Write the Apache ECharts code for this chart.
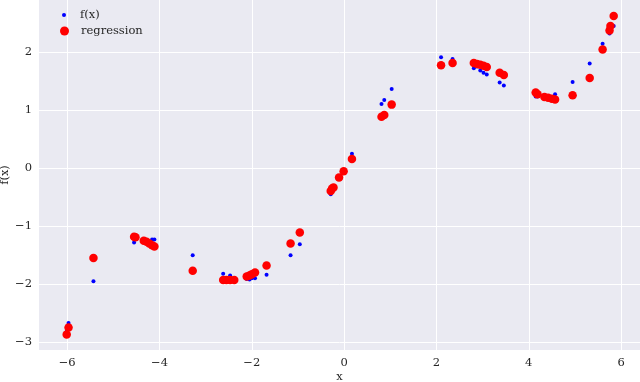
<!DOCTYPE html>
<html>
<head>
<meta charset="utf-8">
<script src="https://cdn.jsdelivr.net/npm/echarts@6/dist/echarts.min.js"></script>
<style>html,body{margin:0;padding:0;background:#fff}#c{width:640px;height:382px}</style>
</head>
<body>
<div id="c"></div>
<script>
var xs = [-6.01, -5.97, -5.43, -4.55, -4.52, -4.34, -4.28, -4.22, -4.16, -4.11, -3.28, -2.62, -2.55, -2.47, -2.38, -2.11, -2.05, -2.00, -1.93, -1.68, -1.16, -0.96, -0.29, -0.26, -0.23, -0.11, -0.01, 0.17, 0.81, 0.87, 1.03, 2.10, 2.35, 2.81, 2.88, 2.95, 3.02, 3.09, 3.37, 3.46, 4.15, 4.19, 4.34, 4.42, 4.50, 4.57, 4.95, 5.32, 5.60, 5.75, 5.77, 5.84];
var fx = [-2.82, -2.67, -1.95, -1.28, -1.21, -1.27, -1.29, -1.30, -1.23, -1.23, -1.50, -1.82, -1.91, -1.85, -1.94, -1.91, -1.92, -1.90, -1.90, -1.84, -1.50, -1.31, -0.45, -0.38, -0.33, -0.16, -0.05, 0.25, 1.11, 1.18, 1.37, 1.92, 1.89, 1.73, 1.76, 1.69, 1.65, 1.62, 1.48, 1.43, 1.24, 1.24, 1.21, 1.20, 1.20, 1.28, 1.49, 1.81, 2.15, 2.33, 2.40, 2.46];
var reg = [-2.87, -2.75, -1.55, -1.18, -1.19, -1.25, -1.27, -1.30, -1.33, -1.35, -1.77, -1.93, -1.93, -1.93, -1.93, -1.87, -1.85, -1.83, -1.80, -1.68, -1.30, -1.11, -0.39, -0.35, -0.33, -0.16, -0.05, 0.16, 0.89, 0.92, 1.10, 1.78, 1.82, 1.82, 1.80, 1.79, 1.77, 1.75, 1.65, 1.61, 1.31, 1.28, 1.23, 1.22, 1.20, 1.19, 1.26, 1.56, 2.05, 2.38, 2.46, 2.63];
var seriesNames = ['f(x)', 'regression'];
var xTickStep = 2, yTickStep = 1;

var FONT = 'DejaVu Serif';
var TXT = '#262626';
function pair(ys) { return xs.map(function (x, i) { return [x, ys[i]]; }); }
function tickFmt(step) {
  return function (v) {
    var r = Math.round(v / step) * step;
    if (Math.abs(v - r) > 1e-6) return '';
    return r < 0 ? '\u2212' + Math.abs(r) : String(r);
  };
}
var chart = echarts.init(document.getElementById('c'), null, {renderer: 'canvas'});
chart.setOption({
  animation: false,
  backgroundColor: '#ffffff',
  textStyle: {fontFamily: FONT},
  grid: {left: 39, right: 0, top: 0, bottom: 32, show: true, backgroundColor: '#EAEAF2', borderWidth: 0,
         containLabel: false, outerBoundsMode: 'none'},
  legend: [
    {data: [seriesNames[0]], left: 57, top: 4, itemWidth: 4, itemHeight: 4, icon: 'circle',
     textStyle: {fontFamily: FONT, fontSize: 11.5, color: TXT, padding: [0, 0, 0, 9]}},
    {data: [seriesNames[1]], left: 55, top: 20, itemWidth: 9, itemHeight: 9, icon: 'circle',
     textStyle: {fontFamily: FONT, fontSize: 11.5, color: TXT, padding: [0, 0, 0, 7]}}
  ],
  xAxis: {
    type: 'value', min: -6.61, max: 6.41, minInterval: xTickStep, maxInterval: xTickStep,
    name: 'x', nameLocation: 'middle', nameGap: 21, nameMoveOverlap: false,
    nameTextStyle: {fontFamily: FONT, fontSize: 11.5, color: TXT},
    axisLine: {show: false}, axisTick: {show: false},
    axisLabel: {fontFamily: FONT, fontSize: 11.5, color: TXT, margin: 7, formatter: tickFmt(xTickStep), showMinLabel: true, showMaxLabel: true},
    splitLine: {show: true, showMinLine: false, showMaxLine: false, lineStyle: {color: '#ffffff', width: 1}}
  },
  yAxis: {
    type: 'value', min: -3.138, max: 2.907, minInterval: yTickStep, maxInterval: yTickStep,
    name: 'f(x)', nameLocation: 'middle', nameGap: 28, nameMoveOverlap: false,
    nameTextStyle: {fontFamily: FONT, fontSize: 11.5, color: TXT},
    axisLine: {show: false}, axisTick: {show: false},
    axisLabel: {fontFamily: FONT, fontSize: 11.5, color: TXT, margin: 7, formatter: tickFmt(yTickStep)},
    splitLine: {show: true, showMinLine: false, showMaxLine: false, lineStyle: {color: '#ffffff', width: 1}}
  },
  series: [
    {name: seriesNames[0], type: 'scatter', data: pair(fx), symbol: 'circle', symbolSize: 4,
     itemStyle: {color: '#0000ff', opacity: 1}},
    {name: seriesNames[1], type: 'scatter', data: pair(reg), symbol: 'circle', symbolSize: 8.5,
     itemStyle: {color: '#ff0000', opacity: 1}}
  ]
});
</script>
</body>
</html>
